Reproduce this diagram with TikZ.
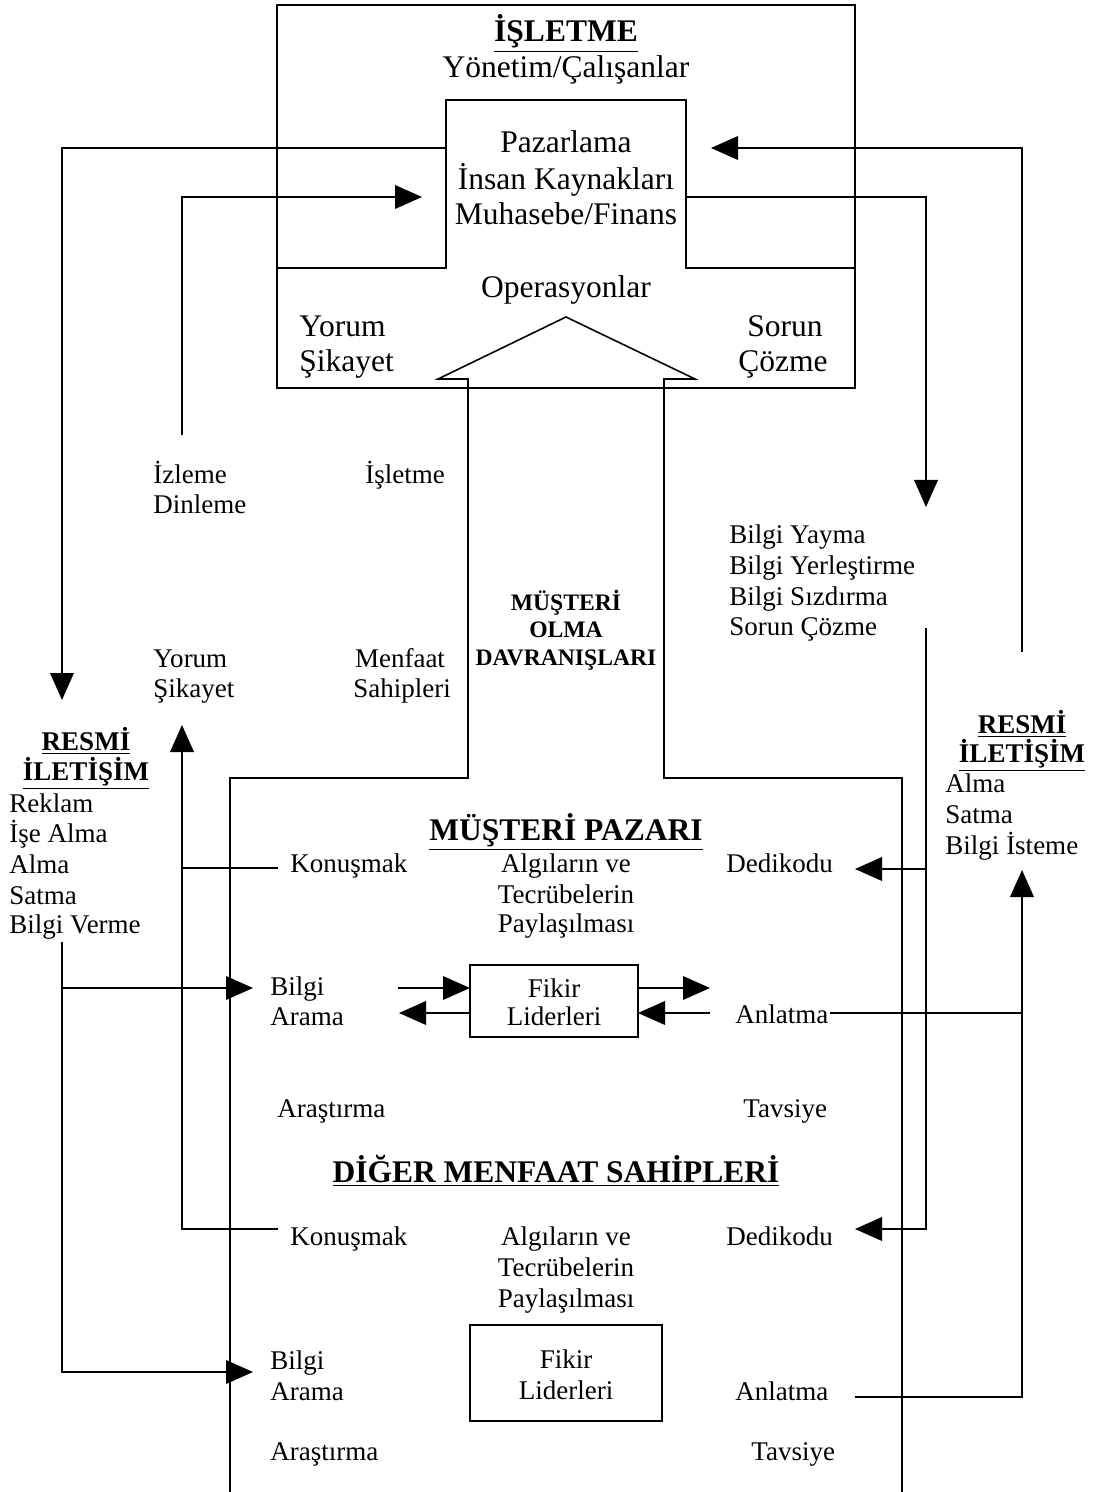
\documentclass[tikz,border=0pt]{standalone}
\usepackage{fontspec}
\setmainfont{Liberation Serif}
\usetikzlibrary{arrows.meta}
\begin{document}
\begin{tikzpicture}[x=0.4444pt,y=-0.4444pt]
\tikzset{
  lbl/.style={inner sep=0pt, font=\fontsize{12}{14}\selectfont},
  lblw/.style={lbl, anchor=base west},
  lblc/.style={lbl, anchor=base},
  big/.style={inner sep=0pt, anchor=base, font=\fontsize{14}{16}\selectfont},
  ttl/.style={inner sep=0pt, anchor=base, font=\fontsize{14}{16}\selectfont\bfseries},
  sttl/.style={inner sep=0pt, anchor=base, font=\fontsize{12}{14}\selectfont\bfseries},
  beh/.style={inner sep=0pt, anchor=base, font=\fontsize{10.5}{12}\selectfont\bfseries},
  ln/.style={line width=0.7pt},
  arr/.style={ln, -{Triangle[length=12pt,width=10.5pt]}},
}
\useasboundingbox (0,0) rectangle (1093,1492);

% ---------- top box (business) ----------
\coordinate (boxTL) at (277,5);
\coordinate (boxBR) at (855,388);
\draw[ln] (boxTL) rectangle (boxBR);
\coordinate (nL) at (277,268);
\coordinate (nLb) at (446,268);
\coordinate (nLt) at (446,100);
\coordinate (nRt) at (686,100);
\coordinate (nRb) at (686,268);
\coordinate (nR) at (855,268);
\draw[ln] (nL) -- (nLb) -- (nLt) -- (nRt) -- (nRb) -- (nR);

\node[ttl] (isl) at (566,42) {\underline{İŞLETME}};
\node[big] (yon) at (566,78) {Yönetim/Çalışanlar};
\node[big] (paz) at (566,153) {Pazarlama};
\node[big] (ik) at (566,190) {İnsan Kaynakları};
\node[big] (muh) at (566,225) {Muhasebe/Finans};
\node[big] (ope) at (566,298) {Operasyonlar};
\node[big, anchor=base west] (yor1) at (299,337) {Yorum};
\node[big, anchor=base west] (sik1) at (299,372) {Şikayet};
\node[big] (sor1) at (785,337) {Sorun};
\node[big] (coz1) at (783,372) {Çözme};

% ---------- big customer-behaviour arrow ----------
\coordinate (aBL) at (230,1492);
\coordinate (aL1) at (230,778);
\coordinate (aL2) at (468,778);
\coordinate (aL3) at (468,379);
\coordinate (aL4) at (438,379);
\coordinate (apex) at (566,317);
\coordinate (aR4) at (695,379);
\coordinate (aR3) at (664,379);
\coordinate (aR2) at (664,778);
\coordinate (aR1) at (902,778);
\coordinate (aBR) at (902,1492);
\draw[ln] (aBL) -- (aL1) -- (aL2) -- (aL3) -- (aL4) -- (apex) -- (aR4) -- (aR3) -- (aR2) -- (aR1) -- (aBR);

% ---------- middle texts ----------
\node[lblw] (izl) at (153,483) {İzleme};
\node[lblw] (din) at (153,513) {Dinleme};
\node[lblc] (isl2) at (405,483) {İşletme};
\node[lblw] (yor2) at (153,667) {Yorum};
\node[lblw] (sik2) at (153,697) {Şikayet};
\node[lblc] (men) at (400,667) {Menfaat};
\node[lblc] (sah) at (402,697) {Sahipleri};
\node[beh] (must) at (566,610) {MÜŞTERİ};
\node[beh] (olma) at (566,637) {OLMA};
\node[beh] (dav) at (566,665) {DAVRANIŞLARI};
\node[lblw] (by1) at (729,543) {Bilgi Yayma};
\node[lblw] (by2) at (729,574) {Bilgi Yerleştirme};
\node[lblw] (by3) at (729,605) {Bilgi Sızdırma};
\node[lblw] (by4) at (729,635) {Sorun Çözme};

% ---------- formal communication (left) ----------
\node[sttl] (rl1) at (86,750) {\underline{RESMİ}};
\node[sttl] (rl2) at (86,780) {\underline{İLETİŞİM}};
\node[lblw] (rl3) at (9,812) {Reklam};
\node[lblw] (rl4) at (9,842) {İşe Alma};
\node[lblw] (rl5) at (9,873) {Alma};
\node[lblw] (rl6) at (9,904) {Satma};
\node[lblw] (rl7) at (9,933) {Bilgi Verme};

% ---------- formal communication (right) ----------
\node[sttl] (rr1) at (1022,733) {\underline{RESMİ}};
\node[sttl] (rr2) at (1022,762) {\underline{İLETİŞİM}};
\node[lblw] (rr3) at (945,792) {Alma};
\node[lblw] (rr4) at (945,823) {Satma};
\node[lblw] (rr5) at (945,854) {Bilgi İsteme};

% ---------- customer market ----------
\node[ttl] (mp) at (566,840) {\underline{MÜŞTERİ PAZARI}};
\node[lblw] (kon1) at (290,872) {Konuşmak};
\node[lblc] (alg1) at (566,872) {Algıların ve};
\node[lblc] (tec1) at (566,903) {Tecrübelerin};
\node[lblc] (pay1) at (566,932) {Paylaşılması};
\node[lblw] (ded1) at (726,872) {Dedikodu};
\node[lblw] (bil1) at (270,995) {Bilgi};
\node[lblw] (ara1) at (270,1025) {Arama};
\coordinate (f1TL) at (470,965);
\coordinate (f1BR) at (638,1037);
\draw[ln] (f1TL) rectangle (f1BR);
\node[lblc] (fik1) at (554,997) {Fikir};
\node[lblc] (lid1) at (554,1025) {Liderleri};
\node[lblw] (anl1) at (735,1023) {Anlatma};
\node[lblw] (ars1) at (277,1117) {Araştırma};
\node[lblw] (tav1) at (743,1117) {Tavsiye};

% ---------- other stakeholders ----------
\node[ttl] (dm) at (556,1182) {\underline{DİĞER MENFAAT SAHİPLERİ}};
\node[lblw] (kon2) at (290,1245) {Konuşmak};
\node[lblc] (alg2) at (566,1245) {Algıların ve};
\node[lblc] (tec2) at (566,1276) {Tecrübelerin};
\node[lblc] (pay2) at (566,1307) {Paylaşılması};
\node[lblw] (ded2) at (726,1245) {Dedikodu};
\coordinate (f2TL) at (470,1325);
\coordinate (f2BR) at (662,1421);
\draw[ln] (f2TL) rectangle (f2BR);
\node[lblc] (fik2) at (566,1368) {Fikir};
\node[lblc] (lid2) at (566,1399) {Liderleri};
\node[lblw] (bil2) at (270,1369) {Bilgi};
\node[lblw] (ara2) at (270,1400) {Arama};
\node[lblw] (anl2) at (735,1400) {Anlatma};
\node[lblw] (ars2) at (270,1460) {Araştırma};
\node[lblw] (tav2) at (751,1460) {Tavsiye};

% ---------- connectors at the top ----------
\coordinate (c1a) at (446,148);
\coordinate (c1b) at (62,148);
\coordinate (c1c) at (62,700);
\draw[arr] (c1a) -- (c1b) -- (c1c);

\coordinate (c2a) at (182,435);
\coordinate (c2b) at (182,197);
\coordinate (c2c) at (422,197);
\draw[arr] (c2a) -- (c2b) -- (c2c);

\coordinate (c3a) at (686,197);
\coordinate (c3b) at (926,197);
\coordinate (c3c) at (926,507);
\draw[arr] (c3a) -- (c3b) -- (c3c);

\coordinate (c4a) at (1022,652);
\coordinate (c4b) at (1022,148);
\coordinate (c4c) at (711,148);
\draw[arr] (c4a) -- (c4b) -- (c4c);

% ---------- left side: talking -> comments ----------
\coordinate (k2) at (278,1229);
\coordinate (k2c) at (182,1229);
\coordinate (kTip) at (182,725);
\draw[arr] (k2) -- (k2c) -- (kTip);
\coordinate (k1c) at (182,868);
\coordinate (k1) at (278,868);
\draw[ln] (k1c) -- (k1);

% ---------- left side: formal comm -> information search ----------
\coordinate (b0) at (62,942);
\coordinate (b2c) at (62,1372);
\coordinate (b2) at (253,1372);
\draw[arr] (b0) -- (b2c) -- (b2);
\coordinate (b1c) at (62,988);
\coordinate (b1) at (253,988);
\draw[arr] (b1c) -- (b1);

% ---------- right side: dissemination -> gossip ----------
\coordinate (d0) at (926,628);
\coordinate (d2c) at (926,1229);
\coordinate (d2) at (855,1229);
\draw[arr] (d0) -- (d2c) -- (d2);
\coordinate (d1c) at (926,869);
\coordinate (d1) at (855,869);
\draw[arr] (d1c) -- (d1);

% ---------- right side: telling -> formal comm ----------
\coordinate (t2) at (855,1397);
\coordinate (t2c) at (1022,1397);
\coordinate (tTip) at (1022,870);
\draw[arr] (t2) -- (t2c) -- (tTip);
\coordinate (t1) at (830,1013);
\coordinate (t1c) at (1022,1013);
\draw[ln] (t1) -- (t1c);

% ---------- opinion leaders arrows ----------
\coordinate (o1) at (398,988);
\coordinate (o2) at (399,1013);
\coordinate (o3) at (710,988);
\coordinate (o4) at (710,1013);
\draw[arr] (o1) -- (f1TL |- o1);
\draw[arr] (f1TL |- o2) -- (o2);
\draw[arr] (f1BR |- o3) -- (o3);
\draw[arr] (o4) -- (f1BR |- o4);
\end{tikzpicture}
\end{document}
